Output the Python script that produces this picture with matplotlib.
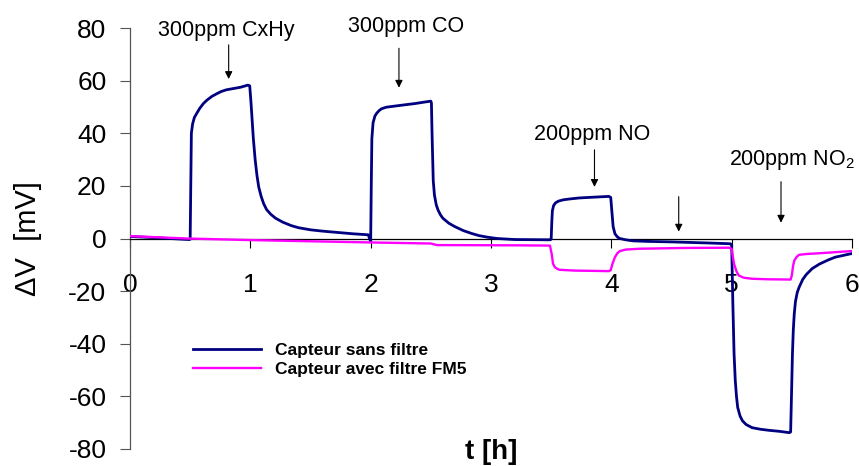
import matplotlib
matplotlib.use('Agg')
import matplotlib.pyplot as plt

plt.rcParams['font.family'] = ['Liberation Sans', 'DejaVu Sans']
plt.rcParams['mathtext.fontset'] = 'custom'
plt.rcParams['mathtext.rm'] = 'Liberation Sans'
plt.rcParams['mathtext.default'] = 'regular'
plt.rcParams['axes.unicode_minus'] = False

# capteur sans filtre (bleu)
t_sans = [0.00, 0.25, 0.49, 0.50, 0.505, 0.51, 0.52, 0.535, 0.555, 0.58, 0.61, 0.64, 0.68, 0.72, 0.76, 0.80,
          0.86, 0.92, 0.98, 0.995, 1.005, 1.015, 1.025, 1.04, 1.055, 1.07, 1.09, 1.11, 1.135, 1.17, 1.21,
          1.27, 1.34, 1.40, 1.50, 1.60, 1.70, 1.85, 1.98, 2.00,
          2.005, 2.01, 2.02, 2.035, 2.05, 2.07, 2.09, 2.13, 2.18, 2.23, 2.30, 2.37, 2.44, 2.50, 2.505, 2.51,
          2.52, 2.53, 2.545, 2.56, 2.58, 2.60, 2.65, 2.70, 2.77, 2.84, 2.90, 2.97, 3.05, 3.20, 3.49,
          3.50, 3.505, 3.51, 3.52, 3.535, 3.56, 3.60, 3.65, 3.73, 3.85, 3.98, 3.995, 4.005, 4.015, 4.03,
          4.05, 4.07, 4.12, 4.18, 4.30, 4.51, 4.80, 4.99,
          5.00, 5.01, 5.02, 5.03, 5.04, 5.05, 5.07, 5.09, 5.12, 5.17, 5.24, 5.31, 5.40, 5.48, 5.49, 5.497,
          5.505, 5.512, 5.52, 5.53, 5.545, 5.56, 5.59, 5.62, 5.67, 5.73, 5.80, 5.86, 5.93, 5.99, 6.00]
v_sans = [0.8, 0.2, -0.4, -0.3, 20, 40, 43.5, 46, 47.6, 49.5, 51.3, 52.6, 54.0, 55.0, 55.9, 56.5,
          57.0, 57.5, 58.3, 58.0, 52, 45, 38, 30, 24, 19.5, 16, 13.3, 11, 9.2, 7.7,
          6.2, 4.9, 4.1, 3.3, 2.8, 2.4, 1.8, 1.4, -1.2,
          20, 38, 44, 46.5, 47.6, 48.6, 49.3, 49.9, 50.2, 50.5, 50.9, 51.3, 51.8, 52.2, 51.5, 40,
          22, 16.5, 12.8, 10.8, 9.0, 7.7, 5.8, 4.5, 3.0, 1.9, 1.1, 0.5, 0.0, -0.4, -0.5,
          -0.3, 6, 10.5, 12.5, 13.5, 14.2, 14.7, 15.0, 15.4, 15.7, 16.0, 15.6, 10, 4.5, 1.8,
          0.6, 0.0, -0.5, -0.9, -1.1, -1.3, -1.7, -2.0,
          -2.5, -25, -43.9, -54, -60, -64.2, -67.5, -69.3, -70.7, -71.9, -72.5, -72.9, -73.3, -73.8, -73.5, -60,
          -43.9, -35, -28.7, -24, -20.5, -18.6, -15.6, -13.7, -11.4, -9.7, -8.2, -7.1, -6.4, -5.8, -5.7]

# capteur avec filtre FM5 (magenta)
t_fm5 = [0.00, 0.47, 1.00, 2.00, 2.50, 2.55, 3.24, 3.49, 3.505, 3.515, 3.53, 3.55, 3.57, 3.70, 3.98,
         3.995, 4.01, 4.03, 4.05, 4.07, 4.12, 4.23, 4.60, 4.98,
         5.00, 5.01, 5.02, 5.04, 5.06, 5.10, 5.17, 5.30, 5.49, 5.50, 5.51, 5.52, 5.54, 5.56, 5.62, 5.73,
         5.86, 5.99, 6.00]
v_fm5 = [0.9, 0.0, -0.6, -1.5, -1.9, -2.5, -2.6, -2.7, -6, -9.5, -10.9, -11.5, -11.9, -12.2, -12.4,
         -12.0, -9.5, -7.1, -5.6, -4.8, -4.2, -3.9, -3.6, -3.5,
         -4.0, -7, -9.7, -12.5, -14.1, -14.9, -15.3, -15.5, -15.6, -14.0, -10.5, -8.4, -7.0, -6.2, -5.9, -5.6,
         -5.2, -4.8, -4.8]

fig = plt.figure(figsize=(8.59, 4.66), dpi=100)
ax = fig.add_axes([130/859, 1 - 449/466, 722/859, 421/466])

ax.plot(t_sans, v_sans, color='#000080', lw=2.0, label='Capteur sans filtre', zorder=3,
        solid_joinstyle='round')
ax.plot(t_fm5, v_fm5, color='#FF00FF', lw=1.7, label='Capteur avec filtre FM5', zorder=4,
        solid_joinstyle='round')

ax.set_xlim(0, 6)
ax.set_ylim(-80, 80)
ax.set_xticks(range(0, 7))
ax.set_yticks(range(-80, 81, 20))

ax.spines['top'].set_visible(False)
ax.spines['right'].set_visible(False)
ax.spines['bottom'].set_position(('data', 0))
ax.spines['bottom'].set_color('black')
ax.spines['bottom'].set_linewidth(0.9)
ax.spines['left'].set_color('#555555')
ax.spines['left'].set_linewidth(0.9)

ax.tick_params(axis='x', direction='out', length=6.5, width=0.8, pad=18, labelsize=19)
ax.tick_params(axis='y', direction='out', length=7, width=0.8, pad=10, labelsize=19, color='#555555')

ax.set_ylabel('ΔV  [mV]', fontsize=21)
ax.yaxis.set_label_coords(-0.122, 0.5)
ax.set_xlabel('t [h]', fontsize=20, fontweight='bold', va='top')
ax.xaxis.set_label_coords(0.5, 0.024)

ax.legend(loc='upper left', bbox_to_anchor=(193/859, 1 - 343/466), bbox_transform=fig.transFigure,
          frameon=False, prop={'weight': 'bold', 'size': 12.5}, handlelength=3.9,
          handletextpad=0.85, labelspacing=0.2, borderpad=0, borderaxespad=0)

arrow = dict(arrowstyle='-|>', color='black', lw=0.8, mutation_scale=11, shrinkA=0, shrinkB=0)
ax.text(0.232, 76.9, '300ppm CxHy', fontsize=15.5, ha='left', va='baseline')
ax.annotate('', xy=(0.82, 60.6), xytext=(0.82, 73.6), arrowprops=arrow)
ax.text(1.809, 78.6, '300ppm CO', fontsize=15.5, ha='left', va='baseline')
ax.annotate('', xy=(2.235, 57.3), xytext=(2.235, 72.3), arrowprops=arrow)
ax.text(3.361, 37.4, '200ppm NO', fontsize=15.5, ha='left', va='baseline')
ax.annotate('', xy=(3.86, 19.6), xytext=(3.86, 33.7), arrowprops=arrow)
ax.annotate('', xy=(4.56, 2.6), xytext=(4.56, 15.9), arrowprops=arrow)
ax.text(4.979, 27.9, '200ppm NO$_2$', fontsize=15.5, ha='left', va='baseline')
ax.annotate('', xy=(5.41, 6.0), xytext=(5.41, 21.6), arrowprops=arrow)

fig.savefig('out.png', dpi=100)
